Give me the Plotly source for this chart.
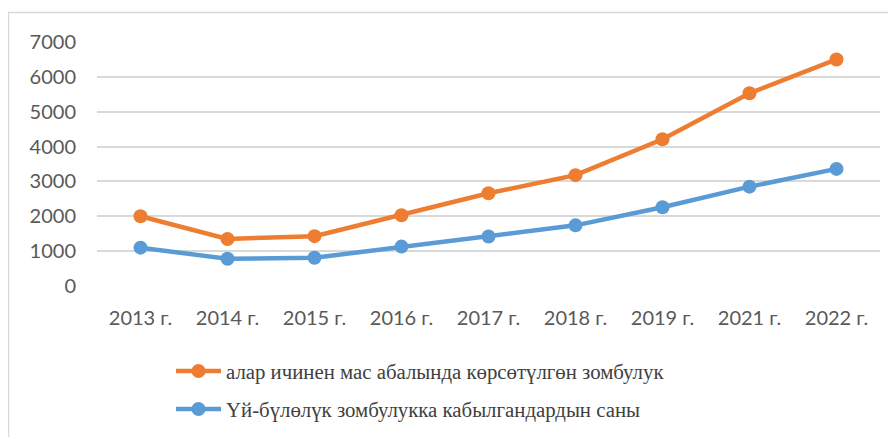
import plotly.graph_objects as go

years = ["2013 г.", "2014 г.", "2015 г.", "2016 г.", "2017 г.", "2018 г.", "2019 г.", "2021 г.", "2022 г."]
severe = [2000, 1350, 1430, 2030, 2660, 3180, 4210, 5530, 6500]
victims = [1100, 780, 810, 1130, 1420, 1740, 2260, 2850, 3360]
name_severe = "алар ичинен мас абалында көрсөтүлгөн зомбулук"
name_victims = "Үй-бүлөлүк зомбулукка кабылгандардын саны"
y_ticks = [0, 1000, 2000, 3000, 4000, 5000, 6000, 7000]

# page has an 8px body margin, so the figure is 8px smaller than the window
OFF = 8
W, H = 896 - OFF, 437 - OFF
L, R, T, B = 97 - OFF, 16, 42 - OFF, 437 - 286
pw, ph = W - L - R, H - T - B

fig = go.Figure()
fig.add_trace(go.Scatter(x=years, y=severe, name=name_severe, mode="lines+markers",
                         line=dict(color="#ED7D31", width=4.5),
                         marker=dict(color="#ED7D31", size=14), legendgroup="a"))
fig.add_trace(go.Scatter(x=years, y=victims, name=name_victims, mode="lines+markers",
                         line=dict(color="#5B9BD5", width=4.5),
                         marker=dict(color="#5B9BD5", size=14), legendgroup="b"))

def px_x(p):  # screen px -> paper
    return (p - OFF - L) / pw

def px_y(p):
    return (H - B - (p - OFF)) / ph

border = "#D9D9D9"
fig.add_shape(type="line", xref="paper", yref="paper", x0=px_x(8), x1=px_x(905),
              y0=px_y(12.5), y1=px_y(12.5), line=dict(color=border, width=1.5))
fig.add_shape(type="line", xref="paper", yref="paper", x0=px_x(8.5), x1=px_x(8.5),
              y0=px_y(12), y1=px_y(445), line=dict(color=border, width=1.5))

fig.update_layout(
    width=W, height=H,
    margin=dict(l=L, r=R, t=T, b=B, autoexpand=False),
    paper_bgcolor="white", plot_bgcolor="white",
    showlegend=True,
    legend=dict(x=px_x(171), y=px_y(351), xanchor="left", yanchor="top",
                font=dict(family="Liberation Serif", size=20.8, color="#404040"),
                tracegroupgap=8, itemwidth=45, bgcolor="rgba(0,0,0,0)"),
    xaxis=dict(range=[-0.5, 8.5], showgrid=False, showline=False, zeroline=False,
               ticks="", tickfont=dict(family="Lato", size=20, color="#595959"),
               ticklabelstandoff=18, fixedrange=True),
    yaxis=dict(range=[0, 7000], tickvals=y_ticks, showgrid=True, gridcolor="#D9D9D9",
               gridwidth=1.5, zeroline=False, showline=False, ticks="",
               tickfont=dict(family="Lato", size=20, color="#595959"),
               ticklabelstandoff=20, fixedrange=True),
)

fig.write_html("out.html")
